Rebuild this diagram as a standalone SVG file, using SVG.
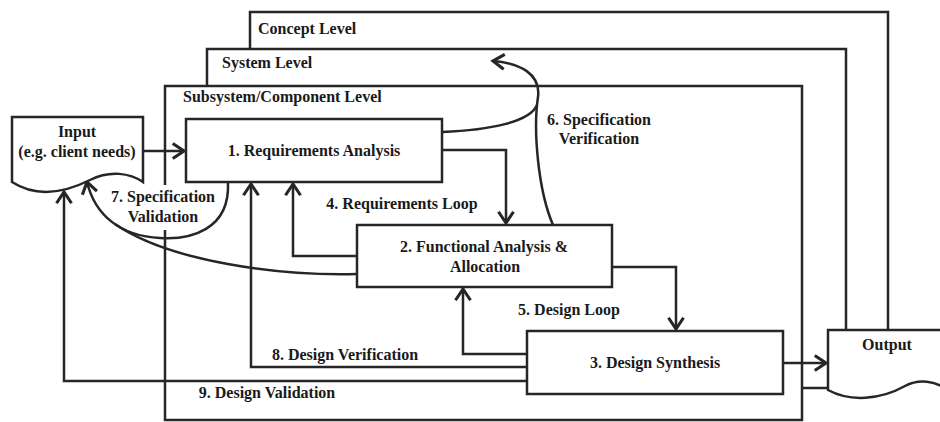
<svg xmlns="http://www.w3.org/2000/svg" width="940" height="422" viewBox="0 0 940 422">
<style>
.ln{fill:none;stroke:#262626;stroke-width:2.5}
.bx{fill:#fff;stroke:#262626;stroke-width:2.5}
text{font-family:"Liberation Serif","Times New Roman",serif;font-weight:bold;font-size:16px;fill:#1a1a1a}
.m{text-anchor:middle}
</style>
<defs>
<marker id="ah" markerUnits="userSpaceOnUse" markerWidth="20" markerHeight="20" viewBox="-12 -8 14 16" refX="0" refY="0" orient="auto">
<path d="M-9,-6 L0,0 L-9,6" fill="none" stroke="#262626" stroke-width="2.5"/>
</marker>
</defs>
<rect width="940" height="422" fill="#fff"/>
<g id="concept-level">
<path class="ln" d="M250,49 V12 H888 V330"/>
<text x="258" y="34">Concept Level</text>
</g>
<g id="system-level">
<path class="ln" d="M207,86 V49 H846 V330"/>
<text x="222" y="68">System Level</text>
</g>
<g id="subsystem-level">
<path class="ln" d="M165,185 V86 H802 V420 H165 V230"/>
<text x="183" y="102">Subsystem/Component Level</text>
</g>
<g id="connectors">
<path class="ln" d="M143,151 H184" marker-end="url(#ah)"/>
<path class="ln" d="M442,150 H506 V223" marker-end="url(#ah)"/>
<path class="ln" d="M612,267 H676 V329" marker-end="url(#ah)"/>
<path class="ln" d="M783,363 H826" marker-end="url(#ah)"/>
<path class="ln" d="M357,256 H293 V184" marker-end="url(#ah)"/>
<path class="ln" d="M527,354 H463 V289" marker-end="url(#ah)"/>
<path class="ln" d="M527,367 H251 V184" marker-end="url(#ah)"/>
<path class="ln" d="M527,381 H64 V192" marker-end="url(#ah)"/>
<path class="ln" d="M802,388 H828"/>
<path class="ln" d="M553,225 C538,190 533,130 538,97 C541,74 520,63 493,61" marker-end="url(#ah)"/>
<path class="ln" d="M442,132 C490,130 530,122 537,105"/>
<path class="ln" d="M228,183 C230,230 190,240 160,238 C120,236 95,215 87,182" marker-end="url(#ah)"/>
<path class="ln" d="M357,274 C280,276 170,262 115,224"/>
<text class="m" x="402" y="209">4. Requirements Loop</text>
<text class="m" x="569" y="315">5. Design Loop</text>
<text class="m" x="599" y="125">6. Specification</text>
<text class="m" x="599" y="144">Verification</text>
<text class="m" x="163" y="202">7. Specification</text>
<text class="m" x="163" y="222">Validation</text>
<text class="m" x="345" y="360">8. Design Verification</text>
<text class="m" x="267" y="398">9. Design Validation</text>
</g>
<g id="input">
<path class="bx" d="M12,182 V117 H143 V182 C130,173 110,170 90,180 C70,190 40,200 12,182 Z"/>
<text class="m" x="77" y="137">Input</text>
<text class="m" x="77" y="157">(e.g. client needs)</text>
</g>
<g id="requirements-analysis">
<rect class="bx" x="186" y="119" width="256" height="63"/>
<text class="m" x="314" y="156">1. Requirements Analysis</text>
</g>
<g id="functional-analysis">
<rect class="bx" x="357" y="225" width="255" height="62"/>
<text class="m" x="484" y="252">2. Functional Analysis &amp;</text>
<text class="m" x="485" y="272">Allocation</text>
</g>
<g id="design-synthesis">
<rect class="bx" x="527" y="331" width="256" height="63"/>
<text class="m" x="655" y="368">3. Design Synthesis</text>
</g>
<g id="output">
<path class="bx" d="M945,330 H828 V390 C850,402 880,400 905,386 C920,378 935,382 945,388 Z"/>
<text class="m" x="887" y="350">Output</text>
</g>
</svg>
